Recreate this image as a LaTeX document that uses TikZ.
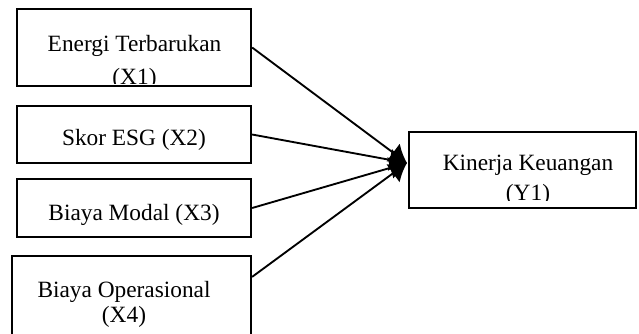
\documentclass[tikz,border=0pt]{standalone}
\usepackage{fontspec}
\setmainfont{Liberation Serif}
\usetikzlibrary{positioning, arrows.meta, calc}

\begin{document}
\begin{tikzpicture}[x=0.75pt,y=-0.75pt,
		box/.style={draw,line width=1.7pt,rectangle,inner sep=0pt},
		txt/.style={font=\fontsize{17.5}{20}\selectfont,inner sep=0pt,anchor=base},
		link/.style={line width=1.4pt,-{Latex[length=13pt,width=17pt]}}]
			\useasboundingbox (0,0) rectangle (639,333);
			% variable boxes
			\node[box,minimum width=175.5pt,minimum height=57.75pt] (x1) at (134,47.5) {};
			\node[box,minimum width=175.5pt,minimum height=42.75pt] (x2) at (134,134.5) {};
			\node[box,minimum width=175.5pt,minimum height=43.5pt] (x3) at (134,208) {};
			\node[box,minimum width=179.25pt,minimum height=66.75pt] (x4) at (131.5,300.5) {};
			\node[box,minimum width=170.25pt,minimum height=57pt] (y1) at (522.5,170) {};
			% labels
			\begin{scope}
				\clip (18,10) rectangle (250,83);
				\node[txt] (t1a) at (134.5,51) {Energi Terbarukan};
				\node[txt] (t1b) at (134.5,84) {(X1)};
			\end{scope}
			\node[txt] (t2) at (134,145) {Skor ESG (X2)};
			\node[txt] (t3) at (134,220) {Biaya Modal (X3)};
			\node[txt] (t4a) at (124,297) {Biaya Operasional};
			\node[txt] (t4b) at (124,322) {(X4)};
			\begin{scope}
				\clip (410,133) rectangle (635,200);
				\node[txt] (t5a) at (528,170) {Kinerja Keuangan};
				\node[txt] (t5b) at (528,200) {(Y1)};
			\end{scope}
			% paths
			\coordinate (tip) at (407,163);
			\coordinate (x4out) at ($(x4.north east)+(0,22)$);
			\path[link] (x1.east) edge (tip)
						(x2.east) edge (tip)
						(x3.east) edge (tip)
						(x4out) edge (tip);
	\end{tikzpicture}
\end{document}
